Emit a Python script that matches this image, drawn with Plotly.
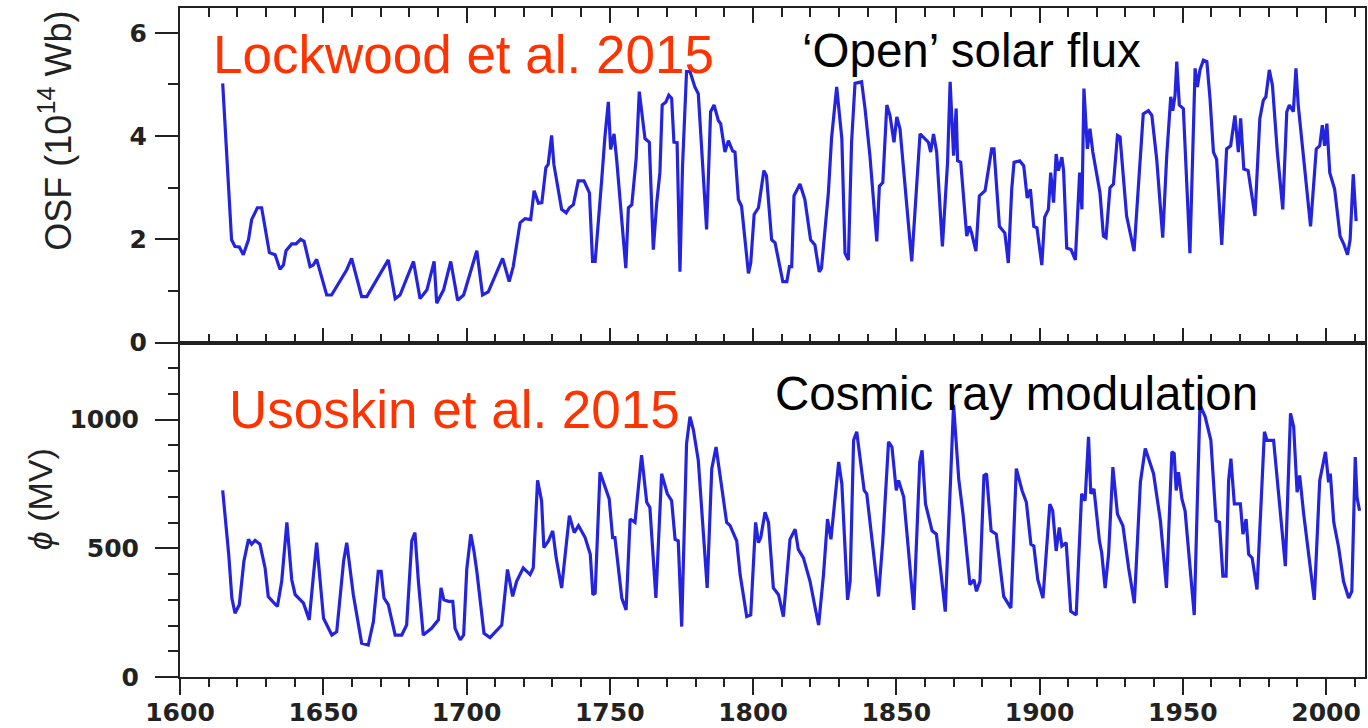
import plotly.graph_objects as go

# ---- Data ----
osf_years = [1614.9, 1618.0, 1619.2, 1620.7, 1622.1, 1623.9, 1625.0, 1627.0, 1628.5, 1629.7,
             1631.2, 1633.2, 1634.9, 1636.1, 1637.0, 1639.0, 1640.5, 1642.1, 1643.3, 1645.4,
             1646.5, 1647.7, 1648.6, 1651.2, 1652.9, 1655.8, 1658.2, 1659.9, 1661.7, 1663.4,
             1665.2, 1668.7, 1672.7, 1675.1, 1676.8, 1681.5, 1683.8, 1686.2, 1688.7, 1689.6,
             1692.0, 1694.5, 1696.9, 1699.0, 1703.6, 1705.6, 1707.6, 1712.6, 1714.9, 1716.3,
             1718.7, 1720.4, 1722.4, 1723.6, 1725.1, 1726.3, 1727.7, 1728.5, 1729.7, 1730.5,
             1732.1, 1733.2, 1734.8, 1735.9, 1737.3, 1739.0, 1741.0, 1742.9, 1744.0, 1744.9,
             1747.2, 1748.3, 1749.5, 1750.3, 1751.5, 1752.4, 1755.6, 1756.5, 1757.7, 1759.2,
             1760.3, 1762.3, 1763.8, 1765.2, 1766.4, 1767.5, 1768.3, 1769.6, 1770.6, 1771.6,
             1772.4, 1773.5, 1774.5, 1775.4, 1776.8, 1778.0, 1779.7, 1780.9, 1783.8, 1785.2,
             1786.4, 1787.9, 1788.7, 1790.2, 1791.4, 1792.9, 1793.7, 1794.9, 1796.0, 1798.4,
             1799.2, 1800.4, 1801.9, 1803.8, 1804.7, 1806.5, 1807.7, 1809.2, 1810.4, 1811.8,
             1812.7, 1813.5, 1814.3, 1816.4, 1818.1, 1820.1, 1821.6, 1823.1, 1823.9, 1826.3,
             1827.4, 1829.2, 1831.0, 1832.1, 1833.3, 1834.4, 1835.6, 1837.9, 1839.1, 1840.8,
             1843.2, 1844.1, 1845.3, 1846.7, 1847.8, 1849.2, 1850.2, 1851.3, 1855.4, 1856.5,
             1858.3, 1861.2, 1862.0, 1863.0, 1864.1, 1866.1, 1867.1, 1867.9, 1868.8, 1870.0,
             1870.9, 1871.4, 1872.5, 1874.6, 1875.5, 1876.3, 1877.8, 1879.0, 1881.0, 1883.3,
             1884.1, 1886.0, 1887.9, 1889.1, 1890.3, 1891.1, 1893.1, 1894.5, 1895.7, 1896.8,
             1898.0, 1899.1, 1900.8, 1901.8, 1903.1, 1903.9, 1904.9, 1905.8, 1906.6, 1907.8,
             1908.4, 1909.5, 1911.0, 1912.5, 1914.0, 1914.8, 1915.5, 1916.7, 1917.6, 1918.6,
             1921.1, 1922.3, 1923.2, 1924.6, 1925.8, 1927.2, 1928.1, 1930.4, 1933.0, 1936.2,
             1938.0, 1939.2, 1940.9, 1943.0, 1944.4, 1945.8, 1946.5, 1947.3, 1947.9, 1948.8,
             1950.2, 1952.5, 1954.3, 1955.1, 1956.0, 1957.2, 1958.4, 1959.5, 1960.7, 1961.8,
             1963.6, 1965.3, 1966.7, 1968.2, 1969.4, 1970.2, 1971.3, 1972.8, 1975.2, 1976.9,
             1978.1, 1979.0, 1980.2, 1981.3, 1983.0, 1984.9, 1986.3, 1987.2, 1988.6, 1989.5,
             1990.3, 1992.1, 1993.2, 1994.6, 1996.6, 1997.8, 1998.7, 1999.5, 2000.3, 2001.3,
             2003.0, 2004.9, 2006.3, 2007.5, 2008.4, 2009.5, 2010.5]
osf_values = [5.02, 1.99, 1.86, 1.85, 1.70, 1.99, 2.38, 2.61, 2.61, 2.25,
              1.74, 1.70, 1.42, 1.50, 1.78, 1.91, 1.91, 2.00, 1.96, 1.47,
              1.50, 1.61, 1.42, 0.92, 0.92, 1.18, 1.41, 1.63, 1.22, 0.89,
              0.89, 1.23, 1.60, 0.85, 0.92, 1.57, 0.85, 1.02, 1.57, 0.76,
              1.02, 1.57, 0.82, 0.92, 1.78, 0.92, 0.98, 1.63, 1.18, 1.47,
              2.32, 2.40, 2.38, 2.94, 2.70, 2.71, 3.39, 3.45, 4.01, 3.45,
              2.97, 2.58, 2.51, 2.61, 2.67, 3.13, 3.13, 2.90, 1.57, 1.57,
              3.16, 3.98, 4.66, 3.74, 4.04, 3.55, 1.44, 2.61, 2.67, 3.55,
              4.86, 3.95, 3.88, 1.80, 2.71, 3.29, 4.60, 4.66, 4.79, 4.73,
              3.88, 3.87, 1.37, 3.42, 5.25, 5.25, 4.95, 4.82, 2.19, 4.47,
              4.60, 4.30, 4.24, 3.69, 3.91, 3.71, 3.69, 2.77, 2.64, 1.34,
              1.54, 2.48, 2.61, 3.33, 3.23, 1.99, 1.93, 1.54, 1.18, 1.18,
              1.47, 1.47, 2.84, 3.07, 2.77, 1.99, 1.89, 1.37, 1.44, 2.90,
              3.95, 4.95, 3.95, 1.73, 1.60, 3.88, 5.02, 5.05, 4.53, 3.62,
              1.96, 3.03, 3.10, 4.60, 4.40, 3.88, 4.37, 4.14, 1.57, 2.51,
              4.04, 3.88, 3.69, 4.04, 3.69, 1.86, 2.90, 3.49, 5.05, 3.62,
              4.53, 3.52, 3.49, 2.06, 2.25, 2.12, 1.77, 2.84, 2.94, 3.75,
              3.75, 2.25, 2.12, 1.54, 2.97, 3.49, 3.52, 3.42, 2.80, 2.97,
              2.25, 2.22, 1.50, 2.43, 2.58, 3.29, 2.71, 3.65, 3.33, 3.59,
              3.33, 1.83, 1.80, 1.60, 3.29, 2.58, 4.92, 3.75, 4.14, 3.69,
              2.90, 2.06, 2.03, 3.00, 3.07, 4.01, 3.98, 2.45, 1.77, 4.43,
              4.49, 4.40, 3.55, 2.03, 3.62, 4.76, 4.49, 4.79, 5.44, 4.60,
              4.53, 1.73, 5.31, 4.95, 5.28, 5.47, 5.44, 4.73, 3.69, 3.55,
              1.89, 3.75, 3.81, 4.40, 3.69, 4.34, 3.36, 3.33, 2.45, 4.34,
              4.69, 4.76, 5.28, 4.98, 3.69, 2.58, 4.47, 4.60, 4.47, 5.31,
              4.60, 3.62, 3.03, 2.25, 3.75, 3.81, 4.21, 3.81, 4.24, 3.29,
              2.97, 2.06, 1.89, 1.70, 1.99, 3.26, 2.35]

phi_years = [1614.9, 1617.0, 1618.1, 1619.2, 1620.7, 1622.3, 1623.9, 1625.0, 1626.2, 1627.9,
             1629.7, 1630.8, 1632.3, 1634.0, 1635.5, 1637.3, 1639.0, 1640.2, 1643.1, 1645.1,
             1646.6, 1647.7, 1650.1, 1653.0, 1654.7, 1657.1, 1658.2, 1660.5, 1663.4, 1665.7,
             1667.5, 1669.2, 1670.2, 1671.2, 1672.7, 1675.1, 1677.4, 1679.1, 1680.9, 1682.0,
             1683.2, 1684.9, 1687.8, 1690.2, 1691.1, 1692.1, 1693.7, 1695.2, 1696.0, 1697.8,
             1699.0, 1700.1, 1701.5, 1702.6, 1703.6, 1706.1, 1708.2, 1712.3, 1714.3, 1716.1,
             1717.5, 1719.8, 1722.2, 1723.3, 1724.8, 1726.2, 1727.0, 1728.6, 1730.1, 1731.3,
             1733.2, 1734.8, 1735.9, 1737.6, 1739.1, 1741.4, 1743.2, 1744.1, 1744.9, 1746.6,
             1748.0, 1749.8, 1751.0, 1751.8, 1754.2, 1755.7, 1757.1, 1758.8, 1761.1, 1762.9,
             1764.0, 1766.1, 1768.1, 1770.1, 1771.6, 1772.8, 1773.9, 1775.1, 1776.8, 1778.0,
             1779.2, 1780.9, 1784.0, 1785.6, 1787.1, 1788.5, 1790.8, 1792.0, 1794.3, 1795.5,
             1797.8, 1799.2, 1800.9, 1801.9, 1802.7, 1804.2, 1805.4, 1807.1, 1808.9, 1810.6,
             1812.9, 1814.7, 1815.8, 1817.6, 1819.9, 1821.7, 1822.9, 1824.6, 1826.0, 1827.2,
             1828.1, 1829.9, 1831.0, 1833.0, 1833.9, 1835.1, 1836.2, 1837.4, 1838.8, 1839.7,
             1841.8, 1843.8, 1845.3, 1847.3, 1848.5, 1850.0, 1850.8, 1852.6, 1856.1, 1858.2,
             1859.0, 1860.2, 1862.5, 1864.0, 1865.4, 1867.1, 1870.0, 1871.2, 1871.8, 1873.3,
             1875.7, 1877.1, 1878.0, 1879.2, 1880.6, 1881.5, 1883.1, 1884.9, 1887.5, 1890.0,
             1891.9, 1893.9, 1895.4, 1897.0, 1898.0, 1899.4, 1901.2, 1903.6, 1904.6, 1905.8,
             1906.9, 1907.8, 1909.3, 1910.9, 1912.8, 1914.7, 1915.9, 1917.1, 1917.9, 1919.0,
             1920.9, 1921.7, 1922.9, 1924.1, 1925.6, 1927.2, 1929.1, 1931.1, 1933.1, 1935.2,
             1936.9, 1939.8, 1942.2, 1944.3, 1946.2, 1947.0, 1947.7, 1948.5, 1949.7, 1950.8,
             1954.0, 1956.0, 1957.8, 1959.8, 1961.6, 1962.8, 1964.0, 1965.1, 1966.0, 1966.8,
             1968.0, 1970.1, 1971.0, 1972.1, 1973.0, 1974.2, 1975.9, 1978.5, 1979.4, 1981.7,
             1983.5, 1985.8, 1987.6, 1988.7, 1989.9, 1990.8, 1992.2, 1995.9, 1997.8, 1999.8,
             2000.9, 2001.5, 2002.7, 2004.4, 2006.1, 2007.9, 2009.0, 2010.2, 2010.8, 2011.7]
phi_values = [725, 477, 307, 248, 281, 450, 535, 516, 531, 516,
              424, 313, 294, 274, 372, 601, 378, 320, 287, 222,
              398, 522, 228, 163, 176, 450, 522, 320, 131, 124,
              215, 411, 411, 307, 281, 163, 163, 202, 529, 561,
              372, 163, 189, 222, 346, 300, 294, 294, 189, 144,
              163, 420, 555, 490, 411, 170, 153, 202, 418, 313,
              372, 424, 398, 424, 764, 685, 503, 529, 568, 463,
              346, 516, 627, 561, 588, 542, 477, 320, 326, 796,
              751, 692, 542, 542, 307, 261, 614, 601, 862, 679,
              659, 307, 790, 712, 685, 535, 529, 196, 907, 1012,
              960, 842, 346, 810, 894, 790, 601, 588, 529, 398,
              235, 241, 601, 522, 542, 640, 601, 346, 320, 235,
              535, 574, 496, 463, 372, 268, 202, 398, 614, 535,
              633, 836, 751, 300, 372, 920, 953, 842, 725, 712,
              516, 313, 529, 914, 894, 725, 764, 699, 261, 836,
              881, 673, 568, 555, 424, 254, 1058, 855, 770, 633,
              359, 378, 333, 372, 783, 790, 568, 555, 313, 268,
              810, 725, 679, 516, 509, 378, 307, 672, 646, 490,
              581, 509, 522, 255, 241, 712, 685, 933, 712, 731,
              529, 483, 346, 477, 816, 633, 588, 424, 287, 757,
              888, 790, 607, 346, 875, 868, 725, 796, 692, 646,
              241, 1058, 1012, 920, 607, 601, 392, 392, 764, 849,
              673, 673, 555, 614, 477, 463, 340, 953, 920, 920,
              712, 431, 1025, 973, 718, 783, 633, 300, 764, 875,
              757, 790, 601, 503, 372, 307, 333, 855, 699, 646]

x_range = [1600, 2013.6]
osf_range = [0, 6.48]
phi_range = [0, 1300]

LINE_BLUE = "#2424e0"
AX = "#222222"
RED = "#ff3300"
tick_font_y = dict(family="DejaVu Sans", size=25, color=AX, weight="bold")
tick_font_x = dict(family="DejaVu Sans", size=25, color=AX, weight="bold")
title_font = "Liberation Sans, Arial, sans-serif"

fig = go.Figure()
fig.add_trace(go.Scatter(x=osf_years, y=osf_values, mode="lines",
                         line=dict(color=LINE_BLUE, width=3.2), xaxis="x", yaxis="y",
                         showlegend=False, hoverinfo="skip"))
fig.add_trace(go.Scatter(x=phi_years, y=phi_values, mode="lines",
                         line=dict(color=LINE_BLUE, width=3.2), xaxis="x2", yaxis="y2",
                         showlegend=False, hoverinfo="skip"))

common = dict(showgrid=False, zeroline=False, tickcolor=AX, tickwidth=2, automargin=False)

fig.update_layout(
    width=1368, height=728,
    margin=dict(l=180, r=3, t=8, b=51, autoexpand=False),
    paper_bgcolor="white", plot_bgcolor="white",
    showlegend=False,
    xaxis=dict(domain=[0, 1], anchor="y", range=x_range, dtick=50, tick0=1600,
               ticks="inside", ticklen=15, showticklabels=False,
               showline=True, linecolor=AX, linewidth=2, mirror="ticks",
               minor=dict(dtick=10, ticklen=9, ticks="inside", tickcolor=AX, tickwidth=2),
               **common),
    xaxis2=dict(domain=[0, 1], anchor="y2", range=x_range, dtick=50, tick0=1600,
                ticks="outside", ticklen=16, tickfont=tick_font_x, ticklabelstandoff=-4,
                showline=True, linecolor=AX, linewidth=2, mirror=True,
                minor=dict(dtick=10, ticklen=8, ticks="outside", tickcolor=AX, tickwidth=2),
                **common),
    xaxis3=dict(overlaying="x2", anchor="y2", side="top", range=x_range, dtick=50, tick0=1600,
                ticks="inside", ticklen=15, showticklabels=False, showline=False,
                minor=dict(dtick=10, ticklen=8, ticks="inside", tickcolor=AX, tickwidth=2),
                **common),
    yaxis=dict(domain=[0.5, 1], anchor="x", range=osf_range, dtick=2, tick0=0,
               ticks="outside", ticklen=23, tickfont=tick_font_y, ticklabelstandoff=3,
               showline=True, linecolor=AX, linewidth=2, mirror=True,
               minor=dict(dtick=1, ticklen=10, ticks="outside", tickcolor=AX, tickwidth=2),
               **common),
    yaxis2=dict(domain=[0, 0.5], anchor="x2", range=phi_range, dtick=500, tick0=0,
                ticks="outside", ticklen=23, tickfont=tick_font_y, ticklabelstandoff=11,
                showline=True, linecolor=AX, linewidth=2, mirror=True,
                minor=dict(dtick=100, ticklen=10, ticks="outside", tickcolor=AX, tickwidth=2),
                **common),
    yaxis3=dict(overlaying="y", anchor="x", side="right", range=osf_range, dtick=2, tick0=0,
                ticks="inside", ticklen=12, showticklabels=False, showline=False,
                minor=dict(dtick=1, ticklen=12, ticks="inside", tickcolor=AX, tickwidth=2),
                **common),
    yaxis4=dict(overlaying="y2", anchor="x2", side="right", range=phi_range, dtick=500, tick0=0,
                ticks="inside", ticklen=12, showticklabels=False, showline=False,
                minor=dict(dtick=100, ticklen=12, ticks="inside", tickcolor=AX, tickwidth=2),
                **common),
)

ann = [
    dict(text="Lockwood et al. 2015", x=0.026, y=0.931, xanchor="left", yanchor="middle",
         font=dict(family=title_font, size=53, color=RED)),
    dict(text="‘Open’ solar flux", x=0.523, y=0.936, xanchor="left", yanchor="middle",
         font=dict(family=title_font, size=47.5, color="black")),
    dict(text="Usoskin et al. 2015", x=0.0395, y=0.4005, xanchor="left", yanchor="middle",
         font=dict(family=title_font, size=53, color=RED)),
    dict(text="Cosmic ray modulation", x=0.5005, y=0.4235, xanchor="left", yanchor="middle",
         font=dict(family=title_font, size=47.5, color="black")),
    dict(text="OSF (10<sup>14</sup> Wb)", x=-0.105, y=0.816, xanchor="center", yanchor="middle",
         textangle=-90, font=dict(family=title_font, size=36, color=AX)),
    dict(text="<i>ϕ</i> (MV)", x=-0.118, y=0.266, xanchor="center", yanchor="middle",
         textangle=-90, font=dict(family=title_font, size=34, color=AX)),
]
for a in ann:
    a.update(xref="paper", yref="paper", showarrow=False)
fig.update_layout(annotations=ann)

fig.write_html("out.html", config={"displayModeBar": False},
               post_script="document.body.style.margin='0px';document.body.style.overflow='hidden';")
